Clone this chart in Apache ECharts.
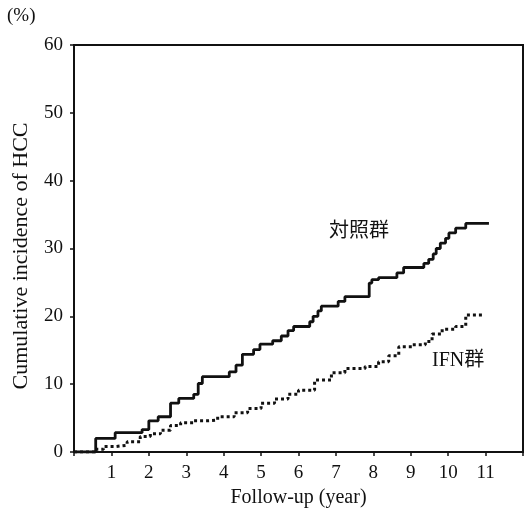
<!DOCTYPE html>
<html>
<head>
<meta charset="utf-8">
<script src="https://cdn.jsdelivr.net/npm/echarts@6/dist/echarts.min.js"></script>
<style>html,body{margin:0;padding:0;background:#fff;}#c{width:527px;height:515px;}</style>
</head>
<body>
<div id="c"></div>
<script>
var xTickLabels = ['1','2','3','4','5','6','7','8','9','10','11'];
var yTickValues = [0,10,20,30,40,50,60];
var yTitle = 'Cumulative incidence of HCC';
var controlName = '対照群';
var ifnName = 'IFN群';
var controlTimes = [0,0.58,1.1,1.82,2.0,2.25,2.58,2.8,3.2,3.32,3.43,4.15,4.33,4.5,4.8,4.97,5.31,5.54,5.72,5.87,6.3,6.39,6.52,6.61,7.06,7.24,7.89,7.96,8.14,8.63,8.81,9.35,9.48,9.6,9.68,9.79,9.93,10.02,10.2,10.47,11.09];
var controlValues = [0,2.0,2.85,3.3,4.6,5.2,7.2,7.9,8.5,10.1,11.1,11.8,12.8,14.4,15.1,15.9,16.4,17.1,17.9,18.5,19.2,20.0,20.8,21.5,22.2,22.9,24.9,25.4,25.7,26.4,27.2,27.8,28.4,29.2,30.0,30.8,31.5,32.3,33.0,33.7,33.7];
var ifnTimes = [0,0.56,0.79,1.1,1.42,1.77,2.04,2.31,2.58,2.85,3.2,3.57,3.84,4.28,4.64,5.0,5.36,5.72,6.0,6.43,6.88,7.24,7.78,8.14,8.41,8.68,9.03,9.39,9.57,9.84,10.2,10.47,10.96];
var ifnValues = [0,0.4,0.8,1.0,1.5,2.3,2.7,3.2,3.9,4.3,4.6,4.7,5.2,5.8,6.4,7.2,7.8,8.5,9.1,10.6,11.7,12.3,12.6,13.3,14.2,15.5,15.8,16.3,17.4,18.1,18.5,20.2,20.2];

function pairs(t, v){ return t.map(function(x,i){ return [x, v[i]]; }); }

var serif = '"Liberation Serif","Times New Roman",serif';
var cjk = '"Liberation Serif","Noto Sans CJK JP",serif';

var chart = echarts.init(document.getElementById('c'), null, {renderer:'canvas'});
chart.setOption({
  animation:false,
  backgroundColor:'#fff',
  grid:{left:74,right:4,top:45,bottom:63,show:true,borderColor:'#111',borderWidth:2,backgroundColor:'transparent'},
  xAxis:{
    type:'value',min:0,max:12,interval:1,
    name:'Follow-up (year)',nameLocation:'middle',nameGap:36,
    nameTextStyle:{fontFamily:serif,fontSize:20,color:'#111'},
    axisLine:{show:true,lineStyle:{color:'#111',width:2}},
    axisTick:{show:true,length:4,inside:false,lineStyle:{color:'#111',width:1.5}},
    axisLabel:{margin:12,fontFamily:serif,fontSize:19,color:'#111',
      formatter:function(v){ var s=String(v); return xTickLabels.indexOf(s)>=0 ? s : ''; }},
    splitLine:{show:false}
  },
  yAxis:{
    type:'value',min:yTickValues[0],max:yTickValues[yTickValues.length-1],interval:10,
    axisLine:{show:true,lineStyle:{color:'#111',width:2}},
    axisTick:{show:true,length:4,lineStyle:{color:'#111',width:1.5}},
    axisLabel:{margin:11,fontFamily:serif,fontSize:19,color:'#111'},
    splitLine:{show:false}
  },
  graphic:[
    {type:'text',left:7,top:7,style:{text:'(%)',font:'19px '+serif,fill:'#111'}},
    {type:'text',x:21,y:256,rotation:Math.PI/2,
     style:{text:yTitle,font:'22px '+serif,fill:'#111',align:'center',verticalAlign:'middle'}},
    {type:'text',left:329,top:222,style:{text:controlName,font:'20px '+cjk,fill:'#111'}},
    {type:'text',left:432,top:351,style:{text:ifnName,font:'20px '+cjk,fill:'#111'}}
  ],
  series:[
    {name:controlName,type:'line',step:'end',showSymbol:false,data:pairs(controlTimes,controlValues),
     lineStyle:{color:'#111',width:2.8,type:'solid'}},
    {name:ifnName,type:'line',step:'end',showSymbol:false,data:pairs(ifnTimes,ifnValues),
     lineStyle:{color:'#111',width:3,type:[3,3]}}
  ]
});
</script>
</body>
</html>
